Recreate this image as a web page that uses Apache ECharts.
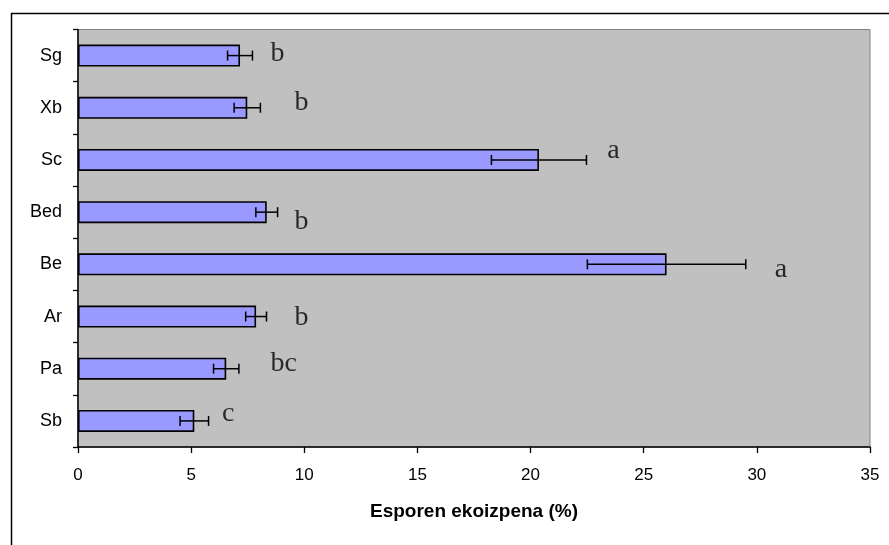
<!DOCTYPE html>
<html>
<head>
<meta charset="utf-8">
<script src="https://cdn.jsdelivr.net/npm/echarts@6/dist/echarts.min.js"></script>
<style>html,body{margin:0;padding:0;background:#fff;}#c{width:889px;height:545px;}</style>
</head>
<body>
<div id="c"></div>
<script>
const categories = ['Sg', 'Xb', 'Sc', 'Bed', 'Be', 'Ar', 'Pa', 'Sb'];
const means = [7.16, 7.48, 20.37, 8.34, 26.01, 7.87, 6.55, 5.14];
const errors = [0.55, 0.58, 2.1, 0.48, 3.5, 0.46, 0.56, 0.63];
const letters = ['b', 'b', 'a', 'b', 'a', 'b', 'bc', 'c'];
const letterX = [8.82, 9.88, 23.66, 9.88, 31.07, 9.88, 9.09, 6.64];
const letterY = [7.53, 6.60, 5.68, 4.32, 3.40, 2.47, 1.60, 0.64];
const xTicks = [0, 5, 10, 15, 20, 25, 30, 35];
const xTitle = 'Esporen ekoizpena (%)';

const chart = echarts.init(document.getElementById('c'), null, {renderer: 'canvas'});
const errData = categories.map((c, i) => [i, means[i] - errors[i], means[i] + errors[i]]);
const letterData = letters.map((t, i) => ({value: [letterX[i], letterY[i]], name: t}));

chart.setOption({
  animation: false,
  backgroundColor: '#fff',
  graphic: [{
    type: 'rect', left: 9, top: 11, shape: {width: 900, height: 560},
    style: {fill: 'none', stroke: '#000', lineWidth: 1.5}, z: 100
  }],
  grid: {
    left: 78, right: 19, top: 29.5, bottom: 98,
    show: true, backgroundColor: '#C0C0C0', borderColor: '#808080', borderWidth: 1
  },
  xAxis: [{
    type: 'value', min: xTicks[0], max: xTicks[xTicks.length - 1], interval: xTicks[1] - xTicks[0],
    name: xTitle, nameLocation: 'middle', nameGap: 55,
    nameTextStyle: {fontFamily: 'Liberation Sans', fontWeight: 'bold', fontSize: 19, color: '#000'},
    axisLine: {show: true, onZero: false, lineStyle: {color: '#000', width: 1.5}},
    axisTick: {show: true, length: 6, lineStyle: {color: '#000', width: 1.3}},
    axisLabel: {margin: 20, fontFamily: 'Liberation Sans', fontSize: 17, color: '#000'},
    splitLine: {show: false}
  }],
  yAxis: [{
    type: 'category', data: categories, inverse: true,
    axisLine: {show: true, lineStyle: {color: '#000', width: 1.5}},
    axisTick: {show: true, length: 5, alignWithLabel: false, lineStyle: {color: '#000', width: 1.3}},
    axisLabel: {margin: 16, fontFamily: 'Liberation Sans', fontSize: 18, color: '#000'},
    splitLine: {show: false}
  }, {
    type: 'value', min: 0, max: categories.length, show: false, splitLine: {show: false}
  }],
  series: [{
    type: 'bar', data: means, barWidth: 22, xAxisIndex: 0, yAxisIndex: 0,
    itemStyle: {color: '#9999FF', borderColor: '#000', borderWidth: 1.6}, z: 2
  }, {
    type: 'custom', xAxisIndex: 0, yAxisIndex: 0, data: errData,
    encode: {x: [1, 2], y: 0}, z: 5,
    renderItem: function (params, api) {
      const idx = api.value(0);
      const p1 = api.coord([api.value(1), idx]);
      const p2 = api.coord([api.value(2), idx]);
      const h = 5;
      const st = {stroke: '#000', lineWidth: 1.5};
      return {type: 'group', children: [
        {type: 'line', shape: {x1: p1[0], y1: p1[1], x2: p2[0], y2: p2[1]}, style: st},
        {type: 'line', shape: {x1: p1[0], y1: p1[1] - h, x2: p1[0], y2: p1[1] + h}, style: st},
        {type: 'line', shape: {x1: p2[0], y1: p2[1] - h, x2: p2[0], y2: p2[1] + h}, style: st}
      ]};
    }
  }, {
    type: 'scatter', xAxisIndex: 0, yAxisIndex: 1, data: letterData,
    symbolSize: 0, z: 6, silent: true,
    label: {
      show: true, position: 'inside', formatter: p => p.name,
      fontFamily: 'Liberation Serif', fontSize: 28, color: '#000',
      textBorderWidth: 0, align: 'center', verticalAlign: 'middle'
    }
  }]
});
</script>
</body>
</html>
